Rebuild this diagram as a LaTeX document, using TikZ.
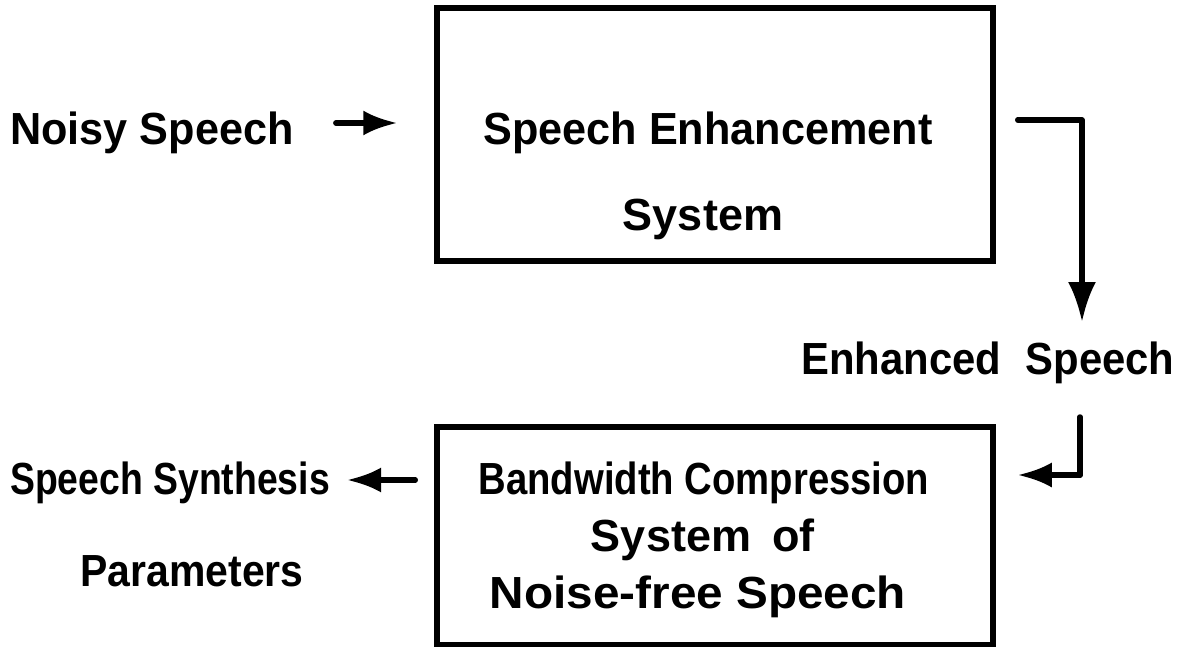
\documentclass[tikz,border=0pt]{standalone}
\usepackage{fontspec}
\setmainfont{Liberation Sans}
\usepackage{graphicx}
\usetikzlibrary{arrows.meta,calc}
\newcommand{\sx}[2]{\scalebox{#1}[1]{#2}}
\begin{document}
\begin{tikzpicture}[x=1pt,y=-1pt,
  blk/.style={draw,line width=5.5pt,minimum width=#1,inner sep=0pt},
  lbl/.style={inner sep=0pt,anchor=base,font=\fontsize{45}{50}\selectfont\bfseries},
  conn/.style={line width=5.5pt,line cap=round,line join=round},
  arrh/.style={conn,-{Latex[length=34pt,width=25pt]}},
  arrv/.style={conn,-{Latex[length=40pt,width=28pt]}}]
\useasboundingbox (0,0) rectangle (1194,647);
% boxes
\node[blk=556pt,minimum height=253pt] (box1) at (715,134.5) {};
\node[blk=556pt,minimum height=218pt] (box2) at (715,536) {};
% texts
\node[lbl] (noisy) at (152,145) {\sx{0.96}{Noisy Speech}};
\node[lbl] (se1) at (708,145) {\sx{0.96}{Speech Enhancement}};
\node[lbl] (se2) at (703,230) {System};
\node[lbl] (enh) at (988,374) {\sx{0.93}{Enhanced\hspace{0.3em} Speech}};
\node[lbl] (bw1) at (704,494) {\sx{0.85}{Bandwidth Compression}};
\node[lbl] (bw2) at (703,551) {\sx{1.0}{System\hspace{0.2em} of}};
\node[lbl] (bw3) at (698,608) {\sx{1.06}{Noise-free Speech}};
\node[lbl] (syn) at (170,494) {\sx{0.83}{Speech Synthesis}};
\node[lbl] (par) at (192,586) {\sx{0.91}{Parameters}};
% bend points
\coordinate (c1) at (1082,120);
\coordinate (c2) at (1082,322);
\coordinate (c3) at (1080,417);
\coordinate (c4) at (1080,475);
% connectors
\draw[arrh] ($(noisy.base east)+(42,-22)$) -- ($(box1.west |- noisy.base)+(-37,-22)$);
\draw[arrv] (box1.east |- c1) ++(22,0) -- (c1) -- (c2);
\draw[conn] (c3) -- (c4);
\draw[arrh] (c4) -- ($(box2.east |- c4)+(22,0)$);
\draw[arrh] ($(box2.west |- syn.base)+(-19,-14)$) -- ($(syn.base east)+(17,-14)$);
\end{tikzpicture}
\end{document}
